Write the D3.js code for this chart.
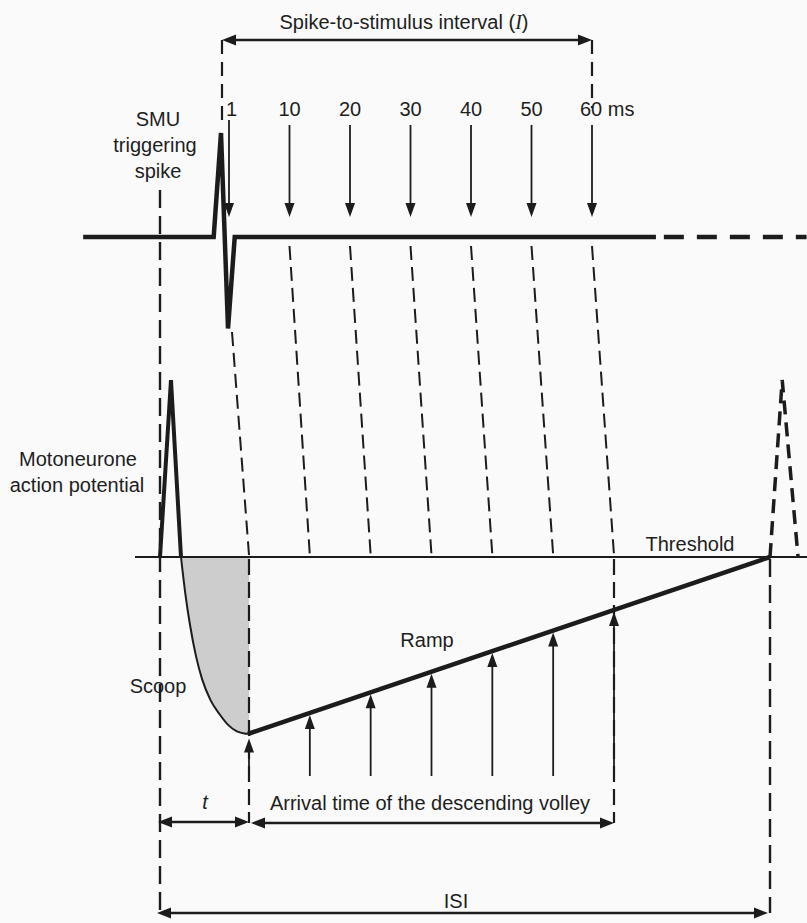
<!DOCTYPE html>
<html>
<head>
<meta charset="utf-8">
<script src="https://cdn.jsdelivr.net/npm/d3@7/dist/d3.min.js"></script>
<style>
  html, body { margin: 0; padding: 0; background: #fafafa; }
  svg { display: block; }
  text { font-family: "Liberation Sans", Arial, Helvetica, sans-serif; fill: #1e1e1e; }
</style>
</head>
<body>
<div id="chart"></div>
<script>
// Stimulus intervals after the SMU spike (ms)
const stimulusIntervals = ["1", "10", "20", "30", "40", "50", "60"];

// SMU recording: [time, amplitude]
const smuTrace = [[-12.6, 0], [8.8, 0], [10, 1], [11.15, -0.88], [12.25, 0], [81.3, 0]];
const smuTail = [[82.6, 0], [106, 0]];

// Motoneurone membrane trajectory: [time, potential relative to threshold]
const apSpike = [[0, 0], [1.8, 1], [3.44, 0]];
const scoop = [[3.44, 0], [4.2, -0.22], [4.9, -0.38], [5.9, -0.56], [6.9, -0.69], [8.3, -0.81], [9.8, -0.89], [11.2, -0.95], [12.6, -0.985], [14.4, -1]];
const ramp = [[14.4, -1], [100, 0]];
const nextSpike = [[100, 0], [102, 1], [104.6, 0]];

const W = 807, H = 923;
const svg = d3.select("#chart").append("svg").attr("width", W).attr("height", H);
svg.append("rect").attr("width", W).attr("height", H).attr("fill", "#fafafa");

// Scales
const x = d3.scaleLinear().domain([0, 100]).range([160, 770]);
const yTop = d3.scaleLinear().domain([0, 1]).range([237, 133]);
const yMem = d3.scaleLinear().domain([0, 1]).range([557, 380]);
const stimX = d3.scalePoint().domain(stimulusIntervals).range([229, 592]);
const arrX = d3.scalePoint().domain(stimulusIntervals).range([249, 614]);

const ink = "#1c1c1c";
const line = (ys) => d3.line().x(d => x(d[0])).y(d => ys(d[1]));

function head(g, px, py, dir, len = 13, hw = 5) {
  let pts;
  if (dir === "down") pts = [[px, py], [px - hw, py - len], [px + hw, py - len]];
  if (dir === "up") pts = [[px, py], [px - hw, py + len], [px + hw, py + len]];
  if (dir === "left") pts = [[px, py], [px + len, py - hw], [px + len, py + hw]];
  if (dir === "right") pts = [[px, py], [px - len, py - hw], [px - len, py + hw]];
  g.append("path").attr("d", d3.line()(pts) + "Z").attr("fill", ink);
}
function dashed(g, x1, y1, x2, y2, w = 2, dash = "14,7") {
  g.append("line").attr("x1", x1).attr("y1", y1).attr("x2", x2).attr("y2", y2)
    .attr("stroke", ink).attr("stroke-width", w).attr("stroke-dasharray", dash);
}
function solid(g, x1, y1, x2, y2, w = 2) {
  g.append("line").attr("x1", x1).attr("y1", y1).attr("x2", x2).attr("y2", y2)
    .attr("stroke", ink).attr("stroke-width", w);
}
function dblArrow(g, x1, x2, y) {
  solid(g, x1 + 6, y, x2 - 6, y, 2.4);
  head(g, x1, y, "left", 14, 5.5);
  head(g, x2, y, "right", 14, 5.5);
}

const g = svg.append("g");

// ----- Threshold and shaded scoop area -----
const yThr = yMem(0);
g.append("path")
  .attr("d", d3.area().x(d => x(d[0])).y0(yThr).y1(d => yMem(d[1])).curve(d3.curveMonotoneX)(scoop.concat([[x.invert(arrX("1")), -1]])))
  .attr("fill", "#cdcdcd");
solid(g, 135, yThr, W, yThr, 2);

// ----- Dashed guides -----
const xSpike = stimX("1") - 7;
dashed(g, xSpike, 40, xSpike, 126, 2.2, "14,8");
dashed(g, stimX("60"), 40, stimX("60"), 108, 2.2, "14,8");
dashed(g, x(0), 190, x(0), 913, 2.4, "18,8");
dashed(g, x(100), yThr + 2, x(100), 913, 2.4, "18,8");

stimulusIntervals.forEach((s, i) => {
  const yStart = i === 0 ? 332 : 246;
  dashed(g, stimX(s) + (i === 0 ? 3 : 0), yStart, arrX(s), yThr - 2, 2);
  if (i === 0 || i === stimulusIntervals.length - 1) {
    dashed(g, arrX(s), yThr + 2, arrX(s), 823, 2.2, "16,7");
  }
});

// ----- SMU trace -----
g.append("path").attr("d", line(yTop)(smuTrace)).attr("fill", "none")
  .attr("stroke", ink).attr("stroke-width", 4.5).attr("stroke-linejoin", "miter");
g.append("path").attr("d", line(yTop)(smuTail)).attr("fill", "none")
  .attr("stroke", ink).attr("stroke-width", 4.5).attr("stroke-dasharray", "20,13");

// ----- Stimulus arrows -----
stimulusIntervals.forEach((s, i) => {
  const x0 = stimX(s);
  const yStart = i === 0 ? 120 : 125;
  solid(g, x0, yStart, x0, 205, 1.8);
  head(g, x0, 217, "down", 14, 5);
});

// ----- Motoneurone membrane potential -----
g.append("path").attr("d", line(yMem)(apSpike)).attr("fill", "none")
  .attr("stroke", ink).attr("stroke-width", 4).attr("stroke-linejoin", "miter");
g.append("path").attr("d", d3.line().x(d => x(d[0])).y(d => yMem(d[1])).curve(d3.curveMonotoneX)(scoop))
  .attr("fill", "none").attr("stroke", ink).attr("stroke-width", 2);
g.append("path").attr("d", line(yMem)(ramp)).attr("fill", "none")
  .attr("stroke", ink).attr("stroke-width", 4.5);
g.append("path").attr("d", line(yMem)(nextSpike)).attr("fill", "none")
  .attr("stroke", ink).attr("stroke-width", 3.5).attr("stroke-dasharray", "14,8");

// ----- Arrival arrows on the ramp -----
const rampAt = d3.scaleLinear().domain([ramp[0][0], ramp[1][0]]).range([ramp[0][1], ramp[1][1]]);
stimulusIntervals.forEach((s, i) => {
  const x0 = arrX(s);
  const tip = yMem(rampAt(x.invert(x0))) + (i === 0 ? 5 : 2);
  solid(g, x0, tip + 10, x0, 776, 1.8);
  head(g, x0, tip, "up", 14, 5);
});

// ----- Interval arrows -----
dblArrow(g, stimX("1") - 7, stimX("60"), 40);
dblArrow(g, x(0) - 2, arrX("1"), 822);
dblArrow(g, arrX("1") + 2, arrX("60"), 823);
dblArrow(g, x(0) - 3, x(100) - 2, 913);

// ----- Labels -----
const fs = 20;
const T = (txt, tx, ty, anchor = "middle") =>
  svg.append("text").attr("x", tx).attr("y", ty).attr("text-anchor", anchor)
    .attr("font-size", fs).text(txt);

const title = svg.append("text").attr("x", 404).attr("y", 29).attr("text-anchor", "middle").attr("font-size", fs);
title.append("tspan").text("Spike-to-stimulus interval (");
title.append("tspan").attr("font-family", "'Liberation Serif', 'Times New Roman', serif").attr("font-style", "italic").text("I");
title.append("tspan").text(")");

stimulusIntervals.forEach((s, i) => {
  if (i === 0) T(s, stimX(s) - 3, 116, "start");
  else if (i === stimulusIntervals.length - 1) T(s + " ms", stimX(s) - 12, 116, "start");
  else T(s, stimX(s), 116);
});

T("SMU", 158, 126);
T("triggering", 155, 152);
T("spike", 158, 178);
T("Motoneurone", 78, 466);
T("action potential", 77, 492);
T("Threshold", 690, 551);
T("Ramp", 427, 647);
T("Scoop", 158, 693);
svg.append("text").attr("x", 205).attr("y", 809).attr("text-anchor", "middle").attr("font-size", fs)
  .attr("font-family", "'Liberation Serif', 'Times New Roman', serif").attr("font-style", "italic").text("t");
T("Arrival time of the descending volley", 430, 810);
T("ISI", 456, 908);
</script>
</body>
</html>
